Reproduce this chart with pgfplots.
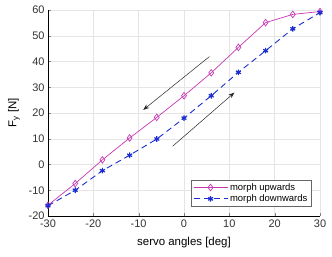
\documentclass[border=0pt]{standalone}
\usepackage{pgfplots}
\pgfplotsset{compat=1.18}
\usetikzlibrary{arrows.meta}
\usepackage{fontspec}
\setmainfont{Liberation Sans}
\definecolor{upc}{RGB}{200,55,180}
\definecolor{dnc}{RGB}{25,45,210}
\begin{document}
\begin{tikzpicture}
\begin{axis}[
  scale only axis, width=272bp, height=206bp,
  xmin=-30, xmax=30, ymin=-20, ymax=60,
  xtick={-30,-20,...,30}, ytick={-20,-10,...,60},
  axis x line*=bottom, axis y line*=left,
  tick align=inside, major tick length=3bp,
  grid=major, major grid style={gray!20, line width=0.4pt},
  font=\fontsize{11}{13}\selectfont,
  tick label style={font=\fontsize{11}{13}\selectfont, text=black!80},
  /pgf/number format/assume math mode=true,
  xlabel={servo angles [deg]}, ylabel={F\textsubscript{y} [N]},
  xlabel style={font=\fontsize{11.5}{13}\selectfont, yshift=-3bp},
  ylabel style={font=\fontsize{11.5}{13}\selectfont, yshift=2bp},
  clip=false,
  legend image code/.code={\draw[mark repeat=2,mark phase=2,#1] plot coordinates {(0cm,0cm) (0.6cm,0cm) (1.2cm,0cm)};},
  legend style={at={(rel axis cs:0.967,0.045)}, anchor=south east,
    font=\fontsize{9.5}{11}\selectfont, draw=black!60, inner sep=1.5bp,
    row sep=-1bp, cells={anchor=west}},
]
\addplot[upc, line width=0.7pt, mark=diamond, mark size=3.3bp, mark options={solid, line width=0.7pt}]
 coordinates {(-30,-15.8) (-24,-7.4) (-18,1.8) (-12,10.3) (-6,18.3) (0,26.7) (6,35.6) (12,45.5) (18,55.1) (24,58.3) (30,59.4)};
\addlegendentry{morph upwards}
\addplot[dnc, line width=0.9pt, dash pattern=on 6bp off 4bp, mark=asterisk, mark size=2.8bp, mark options={solid, line width=1.2pt}]
 coordinates {(-30,-16) (-24,-10) (-18,-2.4) (-12,3.6) (-6,9.9) (0,18) (6,26.7) (12,35.8) (18,44.2) (24,52.7) (30,59)};
\addlegendentry{morph downwards}
\draw[-{Stealth[length=6bp,width=4.5bp]}, black!85, line width=0.5pt] (axis cs:5.6,41.9) -- (axis cs:-9.0,21.2);
\draw[-{Stealth[length=6bp,width=4.5bp]}, black!85, line width=0.5pt] (axis cs:-2.5,7.1) -- (axis cs:11.1,27.9);
\end{axis}
\useasboundingbox (current axis.south west) ++(-48bp,-41bp) rectangle ++(332bp,257bp);
\end{tikzpicture}
\end{document}
